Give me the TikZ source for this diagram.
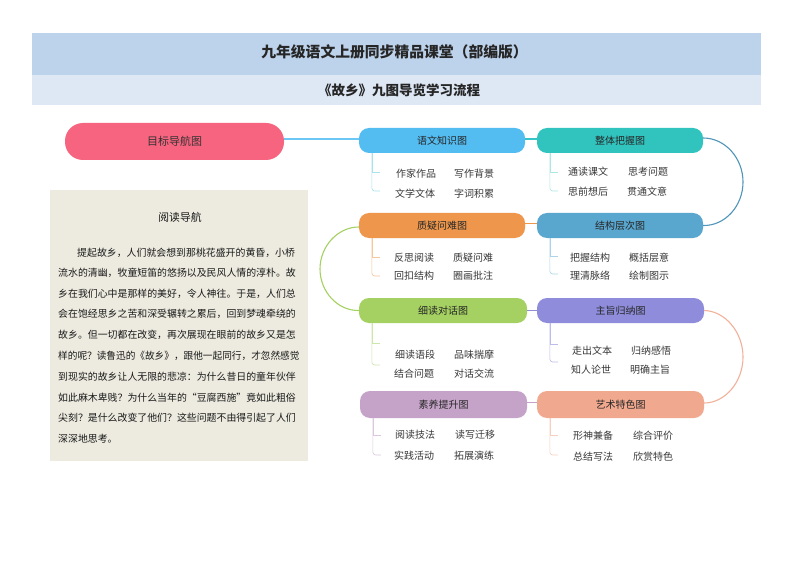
\documentclass[tikz,border=0pt]{standalone}
\usepackage{fontspec}
\setmainfont{Noto Sans CJK SC}
\tikzset{
  x=1pt,y=-1pt,
  pill/.style={rounded corners=10pt,inner sep=0pt,text=black!85,font=\fontsize{10}{12}\selectfont},
  leaf/.style={inner sep=0pt,text=black!78,font=\fontsize{10}{12}\selectfont},
  para/.style={inner sep=0pt,anchor=west,text=black!90,font=\fontsize{9.9}{12}\selectfont},
  link/.style={line width=1.1pt},
  twig/.style={line width=0.6pt}
}
\definecolor{cband}{HTML}{BDD3EC}
\definecolor{csub}{HTML}{DEE8F5}
\definecolor{cpink}{HTML}{F7647F}
\definecolor{cblue}{HTML}{53BDF2}
\definecolor{cteal}{HTML}{31C4BF}
\definecolor{corange}{HTML}{EE974C}
\definecolor{csteel}{HTML}{59A7CF}
\definecolor{cgreen}{HTML}{A5D162}
\definecolor{cviolet}{HTML}{8F8DDB}
\definecolor{cmauve}{HTML}{C5A3C8}
\definecolor{csalmon}{HTML}{F0A88F}
\definecolor{cpanel}{HTML}{EDEBE0}
\newcommand\branch[4]{%
  \coordinate (#1t) at ([xshift=13pt]#1.south west);
  \draw[twig,#2] (#1t) -- (#1t |- 0,#3) -- ++(8,0);
  \draw[twig,#2,rounded corners=3pt] (#1t) -- (#1t |- 0,#4) -- ++(8,0);}
\begin{document}
\begin{tikzpicture}
\useasboundingbox (0,0) rectangle (794,561);
\fill[white] (0,0) rectangle (794,561);
% bands
\node[fill=cband,minimum width=729pt,minimum height=42pt,inner sep=0pt] (title) at (396.5,54) {};
\node[inner sep=0pt,font=\fontsize{14.8}{16}\selectfont\bfseries,text=black!85] (titletext) at (394.5,52) {九年级语文上册同步精品课堂（部编版）};
\node[fill=csub,minimum width=729pt,minimum height=30pt,inner sep=0pt] (sub) at (396.5,90) {};
\node[inner sep=0pt,font=\fontsize{13.5}{16}\selectfont\bfseries,text=black!85] (subtext) at (399,90) {《故乡》九图导览学习流程};
% main pills
\node[pill,rounded corners=18pt,fill=cpink,minimum width=219pt,minimum height=37pt,font=\fontsize{11}{13}\selectfont,text=black!80] (goal) at (174.5,141.5) {目标导航图};
\node[pill,fill=cblue,minimum width=166pt,minimum height=25pt] (yw) at (442,140.5) {语文知识图};
\node[pill,fill=cteal,minimum width=166pt,minimum height=25pt] (zt) at (620,140.5) {整体把握图};
\node[pill,fill=corange,minimum width=166pt,minimum height=25pt] (zy) at (442,225.5) {质疑问难图};
\node[pill,fill=csteel,minimum width=166pt,minimum height=25pt] (jg) at (620,225.5) {结构层次图};
\node[pill,fill=cgreen,minimum width=168pt,minimum height=25pt] (xd) at (443,310.5) {细读对话图};
\node[pill,fill=cviolet,minimum width=167pt,minimum height=25pt] (zz) at (620.5,310.5) {主旨归纳图};
\node[pill,fill=cmauve,minimum width=167pt,minimum height=27pt] (sy) at (443.5,404.5) {素养提升图};
\node[pill,fill=csalmon,minimum width=167pt,minimum height=27pt] (ys) at (620.5,404.5) {艺术特色图};
% connectors between pills
\draw[link,color=cblue!85] ([yshift=2.5pt]goal.east) -- ([yshift=1.5pt]yw.west);
\draw[link,color=cteal!80!cblue] ([yshift=1.5pt]yw.east) -- ([yshift=1.5pt]zt.west);
\draw[link,color=corange] ([yshift=2pt]zy.east) -- ([yshift=2pt]jg.west);
\draw[link,color=cviolet] (xd.east) -- (zz.west);
\draw[link,color=cmauve] ([yshift=2pt]sy.east) -- ([yshift=2pt]ys.west);
\draw[link,color=csteel!90!black] ([yshift=2.5pt]zt.east) .. controls (725,138) and (743,158) .. (743,182) .. controls (743,206) and (725,226) .. (jg.east);
\draw[link,color=cgreen] ([yshift=-1.5pt]zy.west) .. controls (338,227) and (320,246) .. (320,269) .. controls (320,292) and (338,311) .. (xd.west);
\draw[link,color=csalmon!90] (zz.east) .. controls (725,311) and (743,332) .. (743,357) .. controls (743,382) and (725,403) .. ([yshift=1.5pt]ys.east);
% branches
\branch{yw}{color=cblue!35!cteal!45!white}{172}{191}
\branch{zt}{color=cteal!40}{172}{191}
\branch{zy}{color=corange!55}{257}{276}
\branch{jg}{color=csteel!50}{256}{274}
\branch{xd}{color=cgreen!55}{343}{365}
\branch{zz}{color=cviolet!60}{344}{362}
\branch{sy}{color=cmauve!60}{435}{455}
\branch{ys}{color=csalmon!55}{435}{455}
% leaves
\node[leaf] (a1) at (416,174) {作家作品};
\node[leaf] (a2) at (474,174) {写作背景};
\node[leaf] (a3) at (415,194) {文学文体};
\node[leaf] (a4) at (474,194) {字词积累};
\node[leaf] (b1) at (588,172) {通读课文};
\node[leaf] (b2) at (648,172) {思考问题};
\node[leaf] (b3) at (588,192) {思前想后};
\node[leaf] (b4) at (647,192) {贯通文意};
\node[leaf] (c1) at (414,258) {反思阅读};
\node[leaf] (c2) at (473,258) {质疑问难};
\node[leaf] (c3) at (414,276) {回扣结构};
\node[leaf] (c4) at (473,276) {圈画批注};
\node[leaf] (d1) at (590,258) {把握结构};
\node[leaf] (d2) at (649,258) {概括层意};
\node[leaf] (d3) at (590,276) {理清脉络};
\node[leaf] (d4) at (649,276) {绘制图示};
\node[leaf] (e1) at (415,355) {细读语段};
\node[leaf] (e2) at (474,355) {品味揣摩};
\node[leaf] (e3) at (414,374) {结合问题};
\node[leaf] (e4) at (474,374) {对话交流};
\node[leaf] (f1) at (592,351) {走出文本};
\node[leaf] (f2) at (651,351) {归纳感悟};
\node[leaf] (f3) at (591,370) {知人论世};
\node[leaf] (f4) at (650,370) {明确主旨};
\node[leaf] (g1) at (415,435) {阅读技法};
\node[leaf] (g2) at (475,435) {读写迁移};
\node[leaf] (g3) at (414,456) {实践活动};
\node[leaf] (g4) at (474,456) {拓展演练};
\node[leaf] (h1) at (593,436) {形神兼备};
\node[leaf] (h2) at (653,436) {综合评价};
\node[leaf] (h3) at (593,457) {总结写法};
\node[leaf] (h4) at (653,457) {欣赏特色};
% panel
\node[fill=cpanel,minimum width=258pt,minimum height=271pt,inner sep=0pt] (panel) at (179,325.5) {};
\node[inner sep=0pt,text=black!90,font=\fontsize{10.8}{13}\selectfont] (ptitle) at (180,217) {阅读导航};
\node[para] (l1) at (77,253) {提起故乡，人们就会想到那桃花盛开的黄昏，小桥};
\node[para] (l2) at (58,273) {流水的清幽，牧童短笛的悠扬以及民风人情的淳朴。故};
\node[para] (l3) at (58,294) {乡在我们心中是那样的美好，令人神往。于是，人们总};
\node[para] (l4) at (58,314) {会在饱经思乡之苦和深受辗转之累后，回到梦魂牵绕的};
\node[para] (l5) at (58,335) {故乡。但一切都在改变，再次展现在眼前的故乡又是怎};
\node[para] (l6) at (58,356) {\scalebox{0.975}[1]{样的呢？读鲁迅的《故乡》，跟他一起同行，才忽然感觉}};
\node[para] (l7) at (58,377) {到现实的故乡让人无限的悲凉：为什么昔日的童年伙伴};
\node[para] (l8) at (58,398) {如此麻木卑贱？为什么当年的“豆腐西施”竟如此粗俗};
\node[para] (l9) at (58,418) {尖刻？是什么改变了他们？这些问题不由得引起了人们};
\node[para] (l10) at (58,439) {深深地思考。};
\end{tikzpicture}
\end{document}
